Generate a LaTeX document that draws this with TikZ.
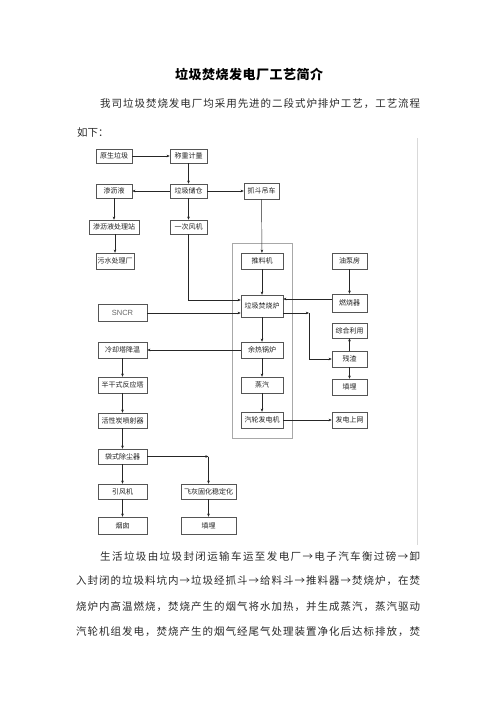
\documentclass[tikz,border=0pt]{standalone}
\usepackage{fontspec}
\usetikzlibrary{arrows.meta,calc}
\newfontfamily\cjk{Noto Sans CJK SC}
\newfontfamily\latsans{Liberation Sans}
\definecolor{boxgray}{HTML}{555555}
\definecolor{txtgray}{HTML}{222222}
\definecolor{grpgray}{HTML}{A8A8A8}
\definecolor{paratxt}{HTML}{2A2A2A}
\def\spreadloop#1{\ifx#1\relax\else#1\hfil\expandafter\spreadloop\fi}
\newcommand\spreadline[2]{\hbox to #1{\spreadloop #2\relax\unskip}}
\begin{document}
\begin{tikzpicture}[x=1pt,y=-1pt,
  box/.style={draw=boxgray,line width=0.5pt,inner sep=0pt,text=txtgray,
    font=\cjk\fontsize{7}{8}\selectfont},
  arr/.style={draw=black!85,line width=0.45pt,-{Stealth[length=3.2pt,width=2.6pt]}},
  ln/.style={draw=black!85,line width=0.45pt},
  para/.style={anchor=base west,inner sep=0pt,text=paratxt,font=\cjk\fontsize{10.5}{12}\selectfont}]
\fill[white] (0,0) rectangle (496,702);
\useasboundingbox (0,0) rectangle (496,702);
% title
\node[para,font=\cjk\bfseries\fontsize{13}{14}\selectfont,text=black] (title) at (175,79) {\spreadline{148pt}{垃圾焚烧发电厂工艺简介}};
\node[para] (p1a) at (100,107) {\spreadline{320pt}{我司垃圾焚烧发电厂均采用先进的二段式炉排炉工艺，工艺流程}};
\node[para] (p1b) at (77,136) {如下：};
% faint frame of the figure
\draw[black!15,line width=0.5pt] (417,138) -- (417,545);
% group box
\draw[grpgray,line width=1pt] (232,243) rectangle (292,438);
% nodes
\node[box,minimum width=36pt,minimum height=14pt] (raw) at (114,156) {原生垃圾};
\node[box,minimum width=37pt,minimum height=14pt] (weigh) at (188.5,156) {称重计量};
\node[box,minimum width=36pt,minimum height=14pt] (leach) at (114,191) {渗沥液};
\node[box,minimum width=37pt,minimum height=14pt] (pit) at (188.5,191) {垃圾储仓};
\node[box,minimum width=35pt,minimum height=16pt] (crane) at (261.5,191) {抓斗吊车};
\node[box,minimum width=50pt,minimum height=14pt] (leachst) at (114,227) {渗沥液处理站};
\node[box,minimum width=37pt,minimum height=14pt] (fan) at (188.5,227) {一次风机};
\node[box,minimum width=38pt,minimum height=16pt] (sewage) at (115,261) {污水处理厂};
\node[box,minimum width=42pt,minimum height=16pt] (pusher) at (262,261) {推料机};
\node[box,minimum width=35pt,minimum height=16pt] (oil) at (349.5,261) {油泵房};
\node[box,minimum width=42pt,minimum height=22pt] (furn) at (262,306) {垃圾焚烧炉};
\node[box,minimum width=35pt,minimum height=18pt] (burn) at (349.5,303) {燃烧器};
\node[box,minimum width=35pt,minimum height=15pt] (reuse) at (349.5,330.5) {综合利用};
\node[box,minimum width=42pt,minimum height=16pt] (boiler) at (262,350) {余热锅炉};
\node[box,minimum width=35pt,minimum height=16pt] (slag) at (349.5,359) {残渣};
\node[box,minimum width=42pt,minimum height=16pt] (steam) at (262,385) {蒸汽};
\node[box,minimum width=35pt,minimum height=16pt] (land1) at (349.5,387) {填埋};
\node[box,minimum width=42pt,minimum height=16pt] (turb) at (262,420) {汽轮发电机};
\node[box,minimum width=35pt,minimum height=16pt] (grid) at (349.5,420) {发电上网};
\node[box,minimum width=49pt,minimum height=17pt,font=\latsans\fontsize{7.5}{8}\selectfont,text=black!60] (sncr) at (122.5,313) {SNCR};
\node[box,minimum width=49pt,minimum height=16pt] (cool) at (122.5,350) {冷却塔降温};
\node[box,minimum width=49pt,minimum height=16pt] (semi) at (122.5,385) {半干式反应塔};
\node[box,minimum width=49pt,minimum height=15pt] (carbon) at (122.5,420.5) {活性炭喷射器};
\node[box,minimum width=49pt,minimum height=15pt] (bag) at (122.5,456.5) {袋式除尘器};
\node[box,minimum width=49pt,minimum height=15pt] (idf) at (122.5,491.5) {引风机};
\node[box,minimum width=55pt,minimum height=15pt] (fly) at (208.5,491.5) {飞灰固化稳定化};
\node[box,minimum width=49pt,minimum height=17pt] (stack) at (122.5,525.5) {烟囱};
\node[box,minimum width=55pt,minimum height=17pt] (land2) at (208.5,525.5) {填埋};
% turning points
\coordinate (fanturn) at (188.5,300);
\coordinate (rturn) at (309,313);
\coordinate (bturn) at (208.5,456.5);
% connectors
\draw[arr] (raw) -- (weigh);
\draw[arr] (weigh) -- (pit);
\draw[arr] (pit) -- (leach);
\draw[arr] (pit) -- (crane);
\draw[arr] (leach) -- (leachst);
\draw[arr] (leachst.south -| sewage.north) -- (sewage.north);
\draw[arr] (pit) -- (fan);
\draw[arr] (fan.south) -- (fanturn) -- (fanturn -| furn.west);
\draw[arr] (sncr.east) -- (sncr.east -| furn.west);
\draw[arr] (crane) -- (pusher);
\draw[arr] (pusher) -- (furn);
\draw[arr] (oil) -- (burn);
\draw[arr] ([yshift=4pt]burn.west) -- ([yshift=4pt]burn.west -| furn.east);
\draw[arr] (rturn -| furn.east) -- (rturn);
\draw[arr] (rturn) -- (rturn |- slag.west) -- (slag.west);
\draw[arr] (slag) -- (reuse);
\draw[arr] (slag) -- (land1);
\draw[arr] (furn) -- (boiler);
\draw[arr] (boiler.west) -- (cool.east);
\draw[arr] (boiler) -- (steam);
\draw[arr] (steam) -- (turb);
\draw[arr] (turb) -- (grid);
\draw[arr] (cool) -- (semi);
\draw[arr] (semi) -- (carbon);
\draw[arr] (carbon) -- (bag);
\draw[arr] (bag) -- (idf);
\draw[arr] (idf) -- (stack);
\draw[arr] (bag.east) -- (bturn);
\draw[arr] (bturn) -- (fly.north);
\draw[arr] (fly) -- (land2);
% text after the diagram
\node[para] (p2a) at (100,560) {\spreadline{320pt}{生活垃圾由垃圾封闭运输车运至发电厂→电子汽车衡过磅→卸}};
\node[para] (p2b) at (76,584.5) {\spreadline{344pt}{入封闭的垃圾料坑内→垃圾经抓斗→给料斗→推料器→焚烧炉，在焚}};
\node[para] (p2c) at (76,610) {\spreadline{344pt}{烧炉内高温燃烧，焚烧产生的烟气将水加热，并生成蒸汽，蒸汽驱动}};
\node[para] (p2d) at (76,635.5) {\spreadline{344pt}{汽轮机组发电，焚烧产生的烟气经尾气处理装置净化后达标排放，焚}};
\end{tikzpicture}
\end{document}
